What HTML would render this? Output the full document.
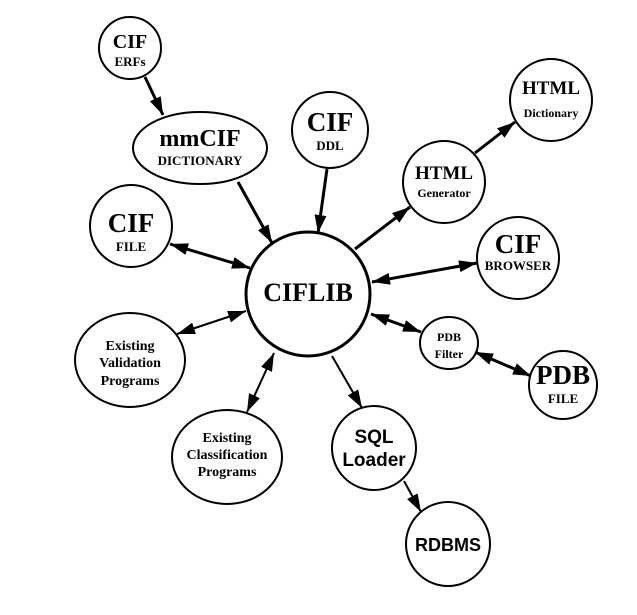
<!DOCTYPE html>
<html><head><meta charset="utf-8"><style>
html,body{margin:0;padding:0;background:#fff;}
svg{display:block;}
text{font-family:"Liberation Serif",serif;font-weight:bold;fill:#000;text-anchor:middle;}
.s{font-family:"Liberation Sans",sans-serif;}
</style></head><body>
<svg width="637" height="615" viewBox="0 0 637 615" xmlns="http://www.w3.org/2000/svg">
<defs>
<marker id="a" viewBox="0 0 18 12" refX="18" refY="6" markerWidth="18" markerHeight="12" markerUnits="userSpaceOnUse" orient="auto-start-reverse">
<path d="M0,0 L18,6 L0,12 z" fill="#000"/></marker>
</defs>
<g fill="none" stroke="#000" stroke-width="2">
<circle cx="130" cy="48" r="31"/>
<ellipse cx="200" cy="148" rx="67" ry="36"/>
<circle cx="330" cy="130" r="38"/>
<circle cx="131" cy="226" r="41"/>
<circle cx="308" cy="294" r="62" stroke-width="3"/>
<circle cx="551" cy="100" r="41"/>
<circle cx="444" cy="182" r="41"/>
<circle cx="518" cy="258" r="41"/>
<ellipse cx="130" cy="360" rx="55" ry="47"/>
<ellipse cx="449" cy="343" rx="29" ry="26"/>
<circle cx="563" cy="385" r="34"/>
<ellipse cx="227" cy="457" rx="55" ry="47"/>
<circle cx="374" cy="448" r="42"/>
<circle cx="448" cy="544" r="42"/>
</g>
<g stroke="#000" stroke-width="3" fill="none">
<line x1="145" y1="77" x2="163" y2="115" marker-end="url(#a)"/>
<line x1="238" y1="182" x2="272" y2="243" marker-end="url(#a)"/>
<line x1="327" y1="169" x2="318" y2="233" marker-end="url(#a)"/>
<line x1="170" y1="244" x2="250" y2="268" marker-start="url(#a)" marker-end="url(#a)"/>
<line x1="355" y1="249" x2="410" y2="207" marker-end="url(#a)"/>
<line x1="475" y1="153" x2="515" y2="122" marker-end="url(#a)"/>
<line x1="372" y1="282" x2="477" y2="263" marker-start="url(#a)" marker-end="url(#a)"/>
<line x1="177" y1="334" x2="246" y2="311" marker-start="url(#a)" marker-end="url(#a)" stroke-width="2"/>
<line x1="247" y1="412" x2="274" y2="353" marker-start="url(#a)" marker-end="url(#a)" stroke-width="2"/>
<line x1="332" y1="356" x2="362" y2="408" marker-end="url(#a)" stroke-width="2"/>
<line x1="404" y1="481" x2="421" y2="512" marker-end="url(#a)" stroke-width="2"/>
<line x1="371" y1="314" x2="421" y2="332" marker-start="url(#a)" marker-end="url(#a)"/>
<line x1="475" y1="352" x2="531" y2="376" marker-start="url(#a)" marker-end="url(#a)"/>
</g>
<text x="130" y="48" font-size="20">CIF</text>
<text x="130" y="66" font-size="13">ERFs</text>
<text x="200" y="146" font-size="24">mmCIF</text>
<text x="200" y="165" font-size="13">DICTIONARY</text>
<text x="330" y="131" font-size="27">CIF</text>
<text x="330" y="150" font-size="13">DDL</text>
<text x="131" y="232" font-size="27">CIF</text>
<text x="131" y="251" font-size="13">FILE</text>
<text x="308" y="301" font-size="26">CIFLIB</text>
<text x="551" y="94" font-size="19">HTML</text>
<text x="551" y="117" font-size="12">Dictionary</text>
<text x="444" y="179" font-size="19">HTML</text>
<text x="444" y="197" font-size="12">Generator</text>
<text x="518" y="253" font-size="27">CIF</text>
<text x="518" y="270" font-size="13">BROWSER</text>
<text x="130" y="350" font-size="14">Existing</text>
<text x="130" y="367" font-size="14">Validation</text>
<text x="130" y="385" font-size="14">Programs</text>
<text x="449" y="341" font-size="12">PDB</text>
<text x="449" y="358" font-size="12">Filter</text>
<text x="563" y="384" font-size="27">PDB</text>
<text x="563" y="403" font-size="13">FILE</text>
<text x="227" y="442" font-size="14">Existing</text>
<text x="227" y="459" font-size="14">Classification</text>
<text x="227" y="476" font-size="14">Programs</text>
<text class="s" x="374" y="443" font-size="19">SQL</text>
<text class="s" x="374" y="466" font-size="19">Loader</text>
<text class="s" x="448" y="551" font-size="18">RDBMS</text>
</svg>
</body></html>
